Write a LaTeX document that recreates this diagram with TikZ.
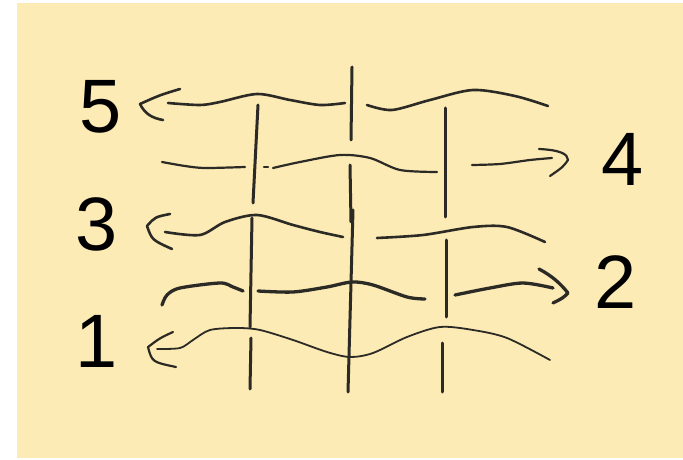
\documentclass[tikz,border=0pt]{standalone}
\usepackage{fontspec}
\setmainfont{Liberation Sans}
\usepackage{tikz}
\definecolor{paper}{HTML}{FDEBB6}
\definecolor{pencil}{HTML}{2C2A25}
\tikzset{
  warp/.style={draw=pencil,line width=3bp,line cap=round},
  weft/.style={draw=pencil,line width=2.6bp,line cap=round,line join=round},
  thinweft/.style={weft,line width=1.8bp},
  thickweft/.style={weft,line width=3.3bp},
  digit/.style={font=\fontsize{76}{76}\selectfont,inner sep=0pt,text=black},
}

\begin{document}
\begin{tikzpicture}[x=1bp,y=-1bp]
  \fill[white] (0,0) rectangle (683,460);
  \fill[paper] (17,3) rectangle (683,458);
  \useasboundingbox (0,0) rectangle (683,460);
  % row numbers
  \foreach \nn/\xx/\yy in {5/101/107,4/623/159,3/97/224,2/616/282,1/97/341}
    \node[digit] (lab\nn) at (\xx,\yy) {\nn};
  % arrow tips next to the numbers
  \coordinate (tip5) at (140,104);
  \coordinate (tip4) at (568,160);
  \coordinate (tip3) at (147,226);
  \coordinate (tip2) at (568,293);
  \coordinate (tip1) at (148,347);
  % warp threads, broken where a row goes over
  \foreach \xa/\ya/\xb/\yb in {258/105/253/203,252/218/250/327,251/338/250/389,
      352/67/351/140,350/165/351/222,353/210/348/392,
      445/108/445/217,446/240/446/317,442/343/442/392}
    \draw[warp] (\xa,\ya) -- (\xb,\yb);
  % row 5
  \draw[weft] plot[smooth] coordinates {(548,106) (515,96) (473,90) (430,100) (392,110) (367,105)};
  \draw[weft] plot[smooth] coordinates {(345,103) (320,105) (290,100) (257,94) (220,102) (200,105) (168,103)};
  \draw[weft] (180,89) .. controls (160,95) .. (tip5) .. controls (145,114) and (152,118) .. (163,120);
  % row 4
  \draw[weft,line width=2.2bp] plot[smooth] coordinates {(162,162) (185,166) (205,168) (245,167)};
  \draw[weft,line width=2.2bp] (264,167) -- (268,167);
  \draw[weft,line width=2.2bp] plot[smooth] coordinates {(273,168) (300,162) (340,155) (370,158) (400,170) (437,172)};
  \draw[weft,line width=2.2bp] plot[smooth] coordinates {(472,165) (500,164) (530,160) (552,158)};
  \draw[weft,line width=2.2bp] (539,149) .. controls (560,150) and (568,154) .. (tip4) .. controls (563,167) .. (550,176);
  % row 3
  \draw[weft] plot[smooth] coordinates {(343,237) (320,232) (293,225) (257,215) (225,222) (200,235) (165,232)};
  \draw[weft] plot[smooth] coordinates {(377,238) (423,235) (473,227) (507,227) (545,242)};
  \draw[weft] (170,214) .. controls (155,217) .. (tip3) .. controls (152,240) .. (172,249);
  % row 2
  \draw[thickweft] plot[smooth] coordinates {(162,305) (167,295) (180,288) (220,283) (233,287) (243,291)};
  \draw[thickweft] plot[smooth] coordinates {(258,291) (293,292) (327,287) (352,282) (373,285) (407,297) (425,299)};
  \draw[thickweft] plot[smooth] coordinates {(455,295) (490,288) (523,283) (553,288)};
  \draw[thickweft] (539,269) .. controls (552,276) and (560,283) .. (tip2) .. controls (563,298) .. (553,303);
  % row 1
  \draw[thinweft] plot[smooth] coordinates {(550,360) (507,338) (473,330) (440,327) (407,337) (373,353) (350,357)
      (327,352) (293,340) (260,330) (237,328) (210,330) (193,340) (180,348) (157,349)};
  \draw[thinweft,line width=2.2bp] (173,332) .. controls (160,338) .. (tip1) .. controls (152,362) .. (176,367);
\end{tikzpicture}
\end{document}
